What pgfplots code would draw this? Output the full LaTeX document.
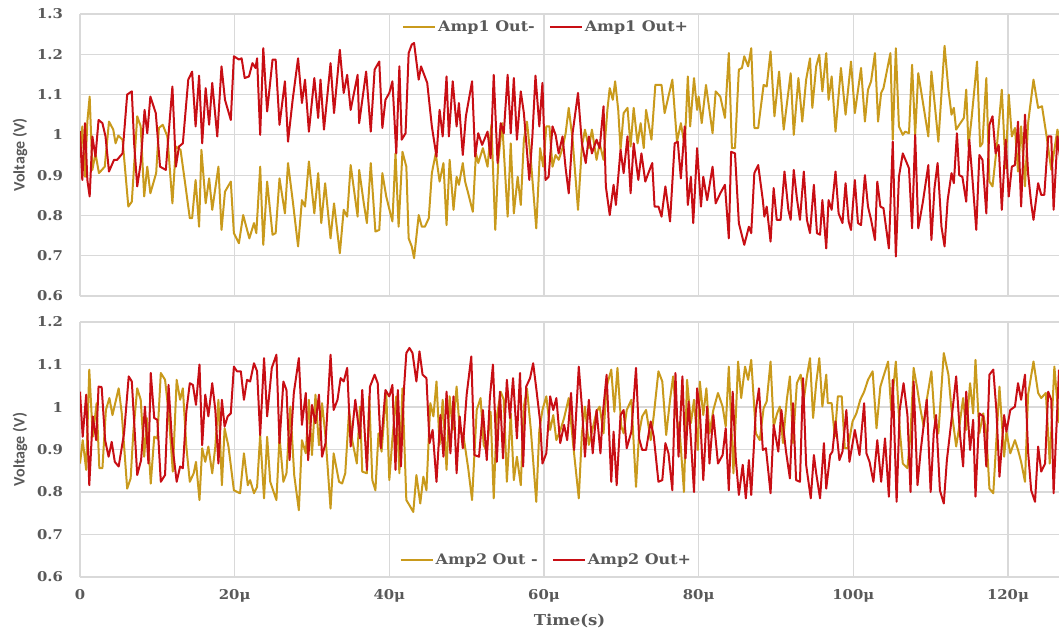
\documentclass[border=0pt]{standalone}
\usepackage{pgfplots}
\pgfplotsset{compat=1.18}
\usepackage{fontspec}
\setmainfont{DejaVu Serif}[FakeStretch=1.1]
\newfontfamily\labelsans{Carlito}
\definecolor{goldc}{RGB}{201,154,28}
\definecolor{redc}{RGB}{200,14,20}
\definecolor{gridc}{RGB}{217,217,217}
\definecolor{txt}{RGB}{89,89,89}

\pgfplotsset{
  panel/.style={
    scale only axis, width=979pt, xmin=0, xmax=126.6,
    axis line style={draw=none},
    grid=major, grid style={gridc, line width=1.2pt},
    major tick length=0pt,
    xtick={0,20,40,60,80,100,120},
    /pgf/number format/assume math mode=true,
    yticklabel style={font=\bfseries\fontsize{13.5}{14}\selectfont, text=txt,
      /pgf/number format/fixed, /pgf/number format/precision=1, xshift=-13.5pt},
    xticklabel style={font=\bfseries\fontsize{13.5}{14}\selectfont, text=txt, yshift=-9pt},
    ylabel={Voltage (V)},
    ylabel style={font=\labelsans\bfseries\fontsize{16}{18}\selectfont, text=txt,
      at={(axis description cs:-0.0613,0.5)}, anchor=center},
    legend style={draw=none, fill=none, font=\bfseries\fontsize{14.5}{16}\selectfont, text=txt,
      legend columns=2},
    legend image code/.code={\path (-12pt,0pt); \draw[##1, line width=2pt] (0pt,0pt) -- (32pt,0pt);},
    every axis plot/.append style={line width=2pt, line join=round},
  }
}

\begin{document}
\begin{tikzpicture}
\path[use as bounding box] (0,0) rectangle (1059pt,632pt);

% ---------------- top panel ----------------
\begin{axis}[panel, at={(80pt,336pt)}, anchor=south west, height=282pt,
  ymin=0.6, ymax=1.3, ytick={0.6,0.7,0.8,0.9,1,1.1,1.2,1.3},
  xticklabels={},
  legend style={at={(axis description cs:0.3136,0.954)}, anchor=west}]
\addplot[goldc] coordinates {
(0,0.946)(0.3,1.021)(0.65,0.896)(0.95,1.033)(1.25,1.095)(1.6,0.913)(2.0,0.954)(2.45,0.905)(3.2,0.921)(3.75,1.033)(4.3,1.013)(4.6,0.979)(4.95,0.998)(5.5,0.988)(6.25,0.822)(6.7,0.834)(7.4,1.046)(7.85,1.021)(8.3,0.847)(8.7,0.921)(9.1,0.855)(9.85,0.905)(10.2,1.017)(10.7,1.025)(11.3,0.996)(11.95,0.83)(12.4,0.971)(13.0,0.963)(13.65,0.872)(14.2,0.793)(14.5,0.793)(14.95,0.888)(15.4,0.772)(15.7,0.963)(16.25,0.83)(16.7,0.892)(17.1,0.814)(17.9,0.921)(18.3,0.764)(18.75,0.859)(19.5,0.884)(19.9,0.756)(20.55,0.731)(21.1,0.801)(21.9,0.743)(22.5,0.781)(22.8,0.756)(23.3,0.921)(23.7,0.727)(24.2,0.884)(24.9,0.752)(25.3,0.756)(25.8,0.892)(26.5,0.805)(26.9,0.93)(27.5,0.838)(28.2,0.723)(28.7,0.838)(29.1,0.822)(29.6,0.934)(30.3,0.805)(30.8,0.905)(31.2,0.781)(31.7,0.88)(32.4,0.743)(32.85,0.83)(33.6,0.706)(34.1,0.814)(34.55,0.797)(35.0,0.925)(35.9,0.797)
(36.1,0.913)(36.7,0.83)(37.1,0.781)(37.6,0.93)(38.2,0.76)(38.7,0.764)(39.1,0.905)(39.6,0.847)(40.4,0.785)(40.8,0.954)(41.2,0.772)(41.7,0.958)(42.2,0.921)(42.5,0.743)(42.9,0.723)(43.2,0.694)(43.8,0.801)(44.2,0.772)(44.6,0.772)(45.1,0.793)(45.5,0.905)(46.0,0.954)(46.5,0.884)(47.0,0.93)(47.4,0.776)(47.8,0.938)(48.3,0.814)(48.7,0.896)(49.0,0.876)(49.5,0.93)(49.8,0.884)(50.2,0.855)(50.8,0.809)(51.2,0.954)(51.5,0.93)(52.1,0.967)(52.7,0.921)(53.2,1.025)(53.7,0.764)(54.1,0.938)(54.6,1.029)(55.3,0.797)(55.7,0.979)(56.1,0.805)(56.6,0.896)(57.0,0.826)(57.4,0.988)(57.8,1.033)(58.3,0.938)(59.0,0.768)(59.5,0.967)(59.9,0.921)(60.3,1.021)(60.7,1.021)(61.1,0.921)(61.5,0.95)(61.9,0.938)(62.4,0.967)(62.8,1.004)(63.2,1.067)(63.7,0.988)(64.4,0.814)(64.9,0.971)(65.3,1.013)(65.8,0.967)(66.2,1.013)(66.8,0.938)(67.2,0.979)(67.7,0.938)(68.2,1.062)(68.5,1.116)(68.9,1.087)(69.2,1.133)(69.6,1.062)(69.9,0.963)(70.3,1.054)(70.8,1.067)(71.2,0.971)(71.6,1.067)(72.1,0.979)(72.5,1.029)(72.9,0.967)(73.2,1.062)(73.9,0.988)(74.4,1.124)(75.2,1.124)(75.6,1.054)(76.6,1.137)(77.2,0.983)(77.7,1.029)(78.2,0.971)(78.6,1.145)(78.9,1.021)(79.4,1.141)(79.8,1.062)
(80.0,1.095)(80.4,1.029)(80.95,1.124)(81.8,1.004)(82.2,1.108)(82.8,1.095)(83.4,1.042)(83.9,1.203)(84.3,0.967)(84.7,0.967)(85.2,1.162)(85.6,1.166)(85.9,1.195)(86.4,1.17)(86.8,1.215)(87.2,1.017)(87.7,1.017)(88.4,1.124)(88.8,1.12)(89.3,1.207)(89.8,1.046)(90.4,1.157)(91.0,1.013)(91.9,1.153)(92.3,1.0)(92.9,1.141)(93.4,1.033)(93.9,1.137)(94.4,1.19)(94.7,1.067)(95.2,1.17)(95.6,1.199)(96.0,1.108)(96.5,1.203)(96.8,1.087)(97.2,1.145)(97.7,1.008)(98.4,1.166)(99.0,1.05)(99.7,1.182)(100.2,1.054)(101.0,1.166)(101.5,1.033)(101.9,1.112)(102.3,1.133)(102.8,1.203)(103.2,1.033)(103.6,1.104)(103.9,1.116)(104.8,1.203)(105.1,0.988)(105.5,1.215)(105.9,1.021)(106.4,1.0)(106.7,1.008)(107.2,1.004)(107.6,1.174)(108.0,1.0)(108.4,1.153)(109.7,0.996)(110.1,1.157)(110.6,1.062)(111.0,0.983)(111.8,1.221)(112.3,1.112)(112.7,1.05)(113.0,1.067)(113.3,1.013)(113.7,1.025)(114.3,1.042)(114.6,1.112)(114.9,0.971)(115.3,1.042)(116.0,1.182)(116.4,0.971)(116.7,0.979)(117.2,1.141)(117.6,0.884)(118.0,0.872)(118.6,0.979)(119.2,1.112)(119.7,0.917)(120.1,1.1)(120.5,0.996)(120.9,1.017)(121.3,0.909)(121.7,1.021)(122.2,0.872)(122.6,1.029)(123.3,1.137)(123.9,1.067)(124.4,1.071)(125.0,0.996)(125.6,0.913)(126.4,1.013)(127,0.95)
};
\addlegendentry{Amp1 Out-}
\addplot[redc] coordinates {
(0,1.009)(0.3,0.888)(0.65,1.029)(0.95,0.888)(1.25,0.847)(1.6,0.996)(2.0,0.946)(2.4,1.037)(2.9,1.029)(3.3,0.996)(3.75,0.909)(4.4,0.938)(4.8,0.938)(5.5,0.954)(6.1,1.1)(6.7,1.108)(7.0,0.979)(7.4,0.872)(7.85,0.93)(8.35,1.062)(8.7,1.004)(9.1,1.095)(9.8,1.054)(10.35,0.921)(11.1,0.913)(11.4,0.988)(11.95,1.12)(12.4,0.921)(12.8,0.971)(13.3,0.979)(14.0,1.137)(14.5,1.157)(14.95,1.021)(15.4,1.147)(15.8,0.979)(16.25,1.116)(16.7,1.025)(17.1,1.129)(17.75,0.996)(18.3,1.17)(18.75,1.087)(19.5,1.037)(19.9,1.195)(20.55,1.187)(20.9,1.19)(21.3,1.141)(21.85,1.145)(22.3,1.178)(22.7,1.166)(22.9,1.19)(23.3,1.0)(23.7,1.215)(24.2,1.058)(24.9,1.187)(25.3,1.187)(25.8,1.025)(26.5,1.133)(26.9,0.983)(27.5,1.087)(28.2,1.19)(28.7,1.079)(29.1,1.137)(29.6,1.008)(30.3,1.141)(30.8,1.042)(31.1,1.137)(31.55,1.013)(32.4,1.178)(32.85,1.054)(33.6,1.211)(34.1,1.104)(34.55,1.149)(35.0,1.062)(35.9,1.149)
(36.1,1.029)(37.0,1.157)(37.6,1.008)(38.1,1.162)(38.7,1.182)(39.1,1.017)(39.5,1.087)(40.0,1.104)(40.4,1.133)(40.9,0.954)(41.3,1.17)(41.6,0.988)(42.1,1.004)(42.5,1.203)(42.9,1.224)(43.2,1.228)(43.8,1.137)(44.1,1.17)(44.9,1.129)(45.5,1.021)(46.1,0.946)(46.5,1.062)(46.9,0.996)(47.4,1.145)(47.7,0.996)(48.2,1.133)(48.7,1.021)(49.0,1.079)(49.5,0.95)(49.9,1.046)(50.7,1.133)(51.1,0.946)(51.5,1.004)(52.0,0.975)(52.7,1.008)(53.1,0.942)(53.5,1.149)(54.0,0.93)(54.4,1.029)(54.8,1.004)(55.3,1.149)(55.7,1.004)(56.1,1.141)(56.5,0.988)(57.0,1.108)(57.4,1.054)(58.1,0.888)(58.5,0.996)(58.9,1.147)(59.4,1.021)(59.8,1.129)(60.2,0.888)(60.6,0.896)(61.1,1.021)(61.5,1.0)(61.9,0.954)(62.4,0.996)(62.8,0.917)(63.2,0.855)(63.7,1.004)(64.4,1.104)(64.9,0.979)(65.4,0.93)(65.8,0.996)(66.2,0.954)(66.8,0.988)(67.2,0.967)(67.7,1.071)(68.0,0.872)(68.5,0.801)(69.0,0.876)(69.3,0.826)(69.9,0.963)(70.3,0.905)(70.8,0.996)(71.2,0.855)(71.6,0.979)(72.2,0.888)(72.6,0.954)(73.1,0.884)(73.5,0.905)(74.0,0.93)(74.3,0.822)(74.8,0.822)(75.2,0.797)(75.7,0.872)(76.3,0.785)(76.9,0.979)(77.3,0.983)(77.7,0.892)(78.2,1.021)(78.6,0.826)(79.0,0.896)(79.3,0.781)(79.8,0.967)
(80.3,0.822)(80.6,0.896)(81.1,0.838)(81.8,0.921)(82.2,0.83)(82.8,0.855)(83.4,0.876)(83.9,0.743)(84.2,0.958)(84.7,0.954)(85.2,0.781)(85.9,0.727)(86.5,0.772)(86.8,0.756)(87.2,0.905)(87.7,0.925)(88.3,0.838)(88.5,0.797)(88.8,0.822)(89.3,0.735)(89.7,0.868)(90.1,0.789)(90.6,0.789)(91.1,0.909)(91.6,0.814)(91.9,0.789)(92.3,0.913)(92.7,0.843)(93.1,0.789)(93.6,0.909)(94.0,0.789)(94.4,0.756)(94.9,0.876)(95.3,0.756)(95.7,0.752)(96.0,0.838)(96.5,0.718)(96.8,0.838)(97.2,0.814)(97.7,0.909)(98.1,0.805)(98.6,0.781)(99.0,0.88)(99.4,0.785)(99.7,0.764)(100.2,0.888)(100.6,0.781)(101.0,0.776)(101.5,0.9)(101.9,0.822)(102.3,0.789)(102.8,0.739)(103.1,0.884)(103.5,0.822)(103.9,0.818)(104.6,0.718)(105.1,0.983)(105.5,0.698)(105.9,0.896)(106.4,0.954)(107.2,0.917)(107.6,0.768)(108.0,1.0)(108.4,0.768)(109.0,0.834)(109.7,0.925)(110.1,0.739)(110.5,0.868)(110.9,0.93)(111.4,0.772)(111.8,0.723)(112.2,0.838)(112.7,0.905)(113.0,0.88)(113.4,1.004)(113.7,0.9)(114.1,0.896)(114.6,0.834)(115.0,0.988)(115.4,0.892)(115.9,0.764)(116.3,0.95)(116.7,0.938)(117.2,0.805)(117.6,1.025)(118.0,1.046)(118.4,0.954)(118.8,0.975)(119.2,0.814)(119.7,0.988)(120.1,0.847)(120.5,0.921)(120.9,0.925)(121.3,1.033)(121.7,0.822)(122.2,1.05)(122.6,0.905)(123.0,0.83)(123.3,0.789)(123.9,0.88)(124.3,0.851)(124.7,0.851)(125.2,0.996)(125.6,0.996)(125.9,0.814)(126.4,0.996)(127,0.9)
};
\addlegendentry{Amp1 Out+}
\end{axis}

% ---------------- bottom panel ----------------
\begin{axis}[panel, at={(80pt,55pt)}, anchor=south west, height=255pt,
  ymin=0.6, ymax=1.2, ytick={0.6,0.7,0.8,0.9,1,1.1,1.2},
  xticklabels={0,20μ,40μ,60μ,80μ,100μ,120μ},
  xlabel={Time(s)},
  xlabel style={font=\bfseries\fontsize{15}{16}\selectfont, text=txt,
    at={(axis description cs:0.5,-0.1725)}, anchor=center},
  legend style={at={(axis description cs:0.3110,0.0667)}, anchor=west}]
\addplot[goldc] coordinates {
(0,0.867)(0.35,0.922)(0.8,0.852)(1.2,1.088)(1.65,0.93)(2.15,1.009)(2.5,0.856)(2.9,0.856)(3.35,0.993)(3.8,1.021)(4.2,0.981)(5.0,1.044)(5.4,0.985)(6.1,0.808)(6.55,0.832)(6.9,0.942)(7.4,1.044)(7.85,1.017)(8.3,0.883)(8.65,0.974)(9.15,0.82)(9.6,0.93)(10.0,0.926)(10.45,1.08)(11.0,1.064)(11.45,0.989)(12.0,0.848)(12.5,1.064)(12.95,1.017)(13.3,1.044)(13.75,0.907)(14.2,0.824)(14.7,0.844)(15.0,0.871)(15.45,0.781)(15.8,0.903)(16.2,0.871)(16.6,0.907)(17.1,0.844)(17.5,0.907)(17.9,1.017)(18.35,0.816)(18.7,0.95)(19.2,0.907)(19.9,0.804)(20.7,0.797)(21.2,0.891)(21.7,0.816)(22.0,0.828)(22.5,0.797)(22.9,0.812)(23.3,0.934)(23.8,0.785)(24.2,0.93)(24.6,0.824)(25.4,0.781)(25.8,0.93)(26.3,0.824)(26.7,0.844)(27.2,1.001)(27.7,0.84)(28.3,0.757)(28.7,0.922)(29.2,0.891)(29.6,1.017)(30.0,0.887)(30.45,1.029)(30.9,0.91)(31.3,1.009)(31.75,0.93)(32.4,0.761)(32.8,0.891)(33.5,0.824)(33.9,0.82)(34.3,0.844)(34.8,0.993)(35.2,0.922)(35.8,0.867)(36.2,1.001)
(36.5,0.848)(37.1,0.844)(37.4,1.025)(37.8,0.828)(38.2,0.804)(38.6,0.938)(39.0,0.895)(39.6,1.036)(40.0,0.828)(40.4,0.926)(40.9,1.025)(41.3,0.844)(41.7,1.044)(42.2,0.781)(42.6,0.769)(43.1,0.753)(43.5,0.84)(44.0,0.773)(44.4,0.836)(44.8,0.804)(45.3,1.009)(45.7,0.978)(46.1,1.06)(46.5,0.911)(46.9,1.017)(47.4,0.852)(47.8,1.025)(48.2,0.946)(48.7,1.048)(49.1,0.946)(49.6,0.93)(50.2,0.856)(50.7,0.781)(51.3,0.993)(51.8,1.021)(52.2,0.911)(52.6,0.895)(53.1,0.989)(53.5,0.785)(53.9,0.978)(54.4,1.036)(54.8,1.017)(55.2,0.824)(55.7,0.985)(56.1,0.828)(56.5,0.883)(57.0,0.816)(57.4,1.001)(57.8,1.044)(58.3,0.946)(59.0,0.777)(59.4,0.946)(59.8,0.993)(60.3,1.025)(60.8,0.946)(61.2,0.981)(61.6,0.922)(62.2,0.95)(62.6,0.974)(63.2,1.021)(63.8,0.907)(64.5,0.785)(64.9,0.938)(65.3,1.001)(65.8,0.911)(66.2,0.942)(66.8,0.989)(67.2,1.001)(67.7,0.938)(68.1,1.048)(68.7,1.088)(69.1,0.989)(69.5,1.092)(70.0,0.954)(70.3,0.938)(70.7,0.993)(71.3,1.017)(71.9,0.812)(72.3,0.938)(72.7,0.978)(73.2,0.993)(73.8,0.922)(74.2,0.981)(74.8,1.084)(75.3,1.06)(75.8,0.934)(76.3,1.017)(76.7,1.072)(77.1,0.981)(77.6,0.93)(78.1,0.8)(78.5,1.064)(79.0,0.962)(79.4,1.017)(79.9,0.899)
(80.15,1.06)(80.6,0.981)(81.0,1.044)(81.4,0.938)(81.9,0.993)(82.5,1.033)(83.1,1.001)(83.5,0.954)(83.9,1.095)(84.5,0.844)(85.1,1.107)(85.5,1.021)(86.0,1.095)(86.4,1.064)(86.8,1.111)(87.4,0.938)(87.9,0.922)(88.4,0.997)(88.8,1.013)(89.3,1.107)(89.7,0.954)(90.15,0.985)(90.5,1.001)(90.9,0.915)(91.4,1.017)(91.8,1.072)(92.2,0.915)(92.7,1.056)(93.2,1.076)(93.6,1.017)(94.0,1.072)(94.4,1.115)(94.8,0.974)(95.2,1.056)(95.6,1.115)(96.0,1.001)(96.5,1.076)(96.7,1.009)(97.2,1.009)(97.6,0.93)(98.0,1.025)(98.5,1.025)(98.9,0.903)(99.3,0.903)(99.9,0.966)(100.4,0.985)(100.9,1.017)(101.4,1.036)(101.9,1.064)(102.5,1.084)(103.0,0.95)(103.5,1.048)(103.9,1.072)(104.5,1.107)(104.9,0.993)(105.5,1.107)(106.0,0.946)(106.4,0.867)(107.0,0.856)(107.4,0.938)(107.8,1.092)(108.3,1.04)(108.7,0.993)(109.1,0.954)(109.5,1.017)(110.1,1.084)(110.5,0.974)(111.0,0.938)(111.7,1.127)(112.3,1.076)(112.7,0.993)(113.3,0.907)(113.8,0.966)(114.2,1.021)(114.6,0.946)(115.1,1.056)(115.5,0.985)(115.8,1.111)(116.3,0.938)(116.8,0.985)(117.2,0.938)(117.6,0.808)(118.1,0.797)(118.5,0.922)(118.9,1.048)(119.5,0.883)(119.8,0.942)(120.3,0.891)(120.9,0.922)(121.3,0.899)(121.7,0.871)(122.2,0.824)(122.6,1.029)(123.3,1.107)(123.9,1.033)(124.3,1.021)(124.9,1.033)(125.4,0.867)(126.0,1.095)(126.6,0.962)
};
\addlegendentry{Amp2 Out -}
\addplot[redc] coordinates {
(0,1.036)(0.35,0.93)(0.8,1.029)(1.2,0.816)(1.65,0.978)(2.1,0.922)(2.4,1.048)(2.8,1.047)(3.25,0.922)(3.7,0.883)(4.1,0.918)(4.5,0.871)(5.0,0.86)(5.7,0.938)(6.3,1.072)(6.7,1.06)(7.4,0.84)(7.9,0.875)(8.4,1.001)(8.85,0.867)(9.15,1.08)(9.6,0.974)(10.0,0.97)(10.45,0.824)(11.0,0.84)(11.45,1.052)(11.9,0.918)(12.5,0.824)(12.95,0.86)(13.3,0.856)(13.75,0.989)(14.2,1.056)(14.6,1.052)(15.0,1.005)(15.45,1.1)(15.8,0.91)(16.2,1.029)(16.6,0.978)(17.1,1.056)(17.5,0.993)(17.9,0.867)(18.35,1.017)(18.7,0.954)(19.1,0.978)(19.5,0.985)(19.9,1.095)(20.3,1.084)(20.8,1.084)(21.2,1.017)(21.6,1.064)(22.0,1.06)(22.5,1.103)(22.9,1.084)(23.3,0.934)(23.8,1.115)(24.2,0.978)(24.8,1.092)(25.4,1.123)(25.8,0.915)(26.3,1.06)(26.7,1.04)(27.1,0.875)(27.65,1.033)(28.3,1.115)(28.7,0.958)(29.2,1.033)(29.5,0.875)(30.0,1.005)(30.45,0.962)(30.9,1.029)(31.3,0.883)(31.75,0.915)(32.4,1.123)(32.8,0.993)(33.3,1.017)(33.7,1.068)(34.1,1.06)(34.55,1.092)(35.0,0.907)(35.6,1.017)(36.2,0.926)
(36.5,1.04)(37.1,0.852)(37.5,1.048)(38.1,1.076)(38.5,1.056)(38.9,0.903)(39.5,1.04)(40.0,1.025)(40.4,1.052)(40.8,0.852)(41.1,1.04)(41.5,0.86)(41.9,1.044)(42.2,1.127)(42.6,1.139)(43.0,1.127)(43.5,1.06)(43.9,1.131)(44.3,1.076)(44.8,1.068)(45.2,0.915)(45.6,0.946)(46.1,0.824)(46.6,0.981)(47.0,0.883)(47.4,1.036)(47.9,0.891)(48.3,1.025)(48.7,0.844)(49.1,0.978)(49.5,0.903)(50.0,1.029)(50.6,1.119)(51.0,0.887)(51.6,0.883)(52.1,0.993)(52.6,0.875)(53.0,1.021)(53.4,1.1)(53.9,0.871)(54.3,1.036)(54.7,0.879)(55.2,1.064)(55.6,0.974)(56.0,1.068)(56.5,0.926)(56.9,1.08)(57.3,0.86)(57.7,1.048)(58.2,1.068)(58.6,1.103)(59.0,1.044)(59.5,0.966)(59.8,0.867)(60.3,0.891)(60.8,1.025)(61.2,0.993)(61.6,1.021)(62.1,0.915)(62.6,0.958)(63.0,0.922)(63.5,1.033)(63.9,0.899)(64.5,1.095)(64.9,1.001)(65.3,0.883)(65.8,1.017)(66.3,0.891)(66.8,0.993)(67.3,0.891)(67.6,0.981)(68.1,1.076)(68.7,0.824)(69.0,0.942)(69.4,0.816)(69.9,0.981)(70.3,0.993)(70.7,0.903)(71.3,0.942)(71.9,1.092)(72.3,0.926)(72.7,0.899)(73.2,0.899)(73.8,0.966)(74.2,0.93)(74.8,0.824)(75.3,0.828)(75.7,0.915)(76.1,0.891)(76.6,0.804)(77.0,1.08)(77.4,0.883)(77.9,1.072)(78.3,0.879)(78.7,1.013)(79.4,0.8)(79.8,1.044)
(80.15,0.993)(80.6,0.828)(81.1,1.001)(81.4,0.867)(81.9,0.981)(82.5,0.867)(83.1,0.887)(83.5,0.95)(83.9,0.804)(84.4,1.036)(84.8,0.879)(85.2,0.793)(85.7,0.864)(86.1,0.785)(86.5,0.875)(86.8,0.793)(87.4,0.993)(87.8,1.044)(88.3,0.899)(88.7,0.903)(89.3,0.797)(89.7,0.958)(90.3,0.895)(90.7,0.993)(91.3,0.895)(91.8,0.832)(92.2,1.009)(92.6,0.828)(93.1,0.824)(93.5,1.068)(93.9,0.864)(94.5,0.785)(94.9,0.887)(95.2,0.844)(95.7,0.785)(96.2,0.915)(96.5,0.808)(97.0,0.887)(97.3,0.895)(97.7,0.966)(98.2,0.875)(98.6,0.895)(99.1,0.993)(99.5,0.871)(100.2,0.946)(100.8,0.887)(101.4,1.009)(101.7,0.891)(102.1,0.871)(102.6,0.824)(103.1,0.922)(103.6,0.824)(104.1,0.926)(104.6,0.789)(105.1,1.064)(105.6,0.777)(106.0,0.993)(106.5,1.056)(107.0,0.981)(107.4,0.8)(107.8,1.06)(108.3,0.816)(108.7,0.895)(109.1,0.958)(109.5,1.017)(110.0,0.8)(110.4,0.938)(110.7,0.981)(111.2,0.804)(111.7,0.773)(112.1,0.875)(112.6,0.954)(113.3,1.072)(113.8,0.934)(114.2,0.86)(114.6,1.036)(115.1,0.899)(115.5,0.97)(115.8,0.789)(116.3,0.985)(116.8,0.978)(117.2,0.86)(117.6,1.076)(118.1,1.088)(118.5,0.993)(118.9,0.836)(119.5,0.981)(119.8,0.942)(120.3,0.993)(120.9,1.001)(121.3,1.056)(121.7,1.017)(122.2,1.076)(122.6,0.895)(123.0,0.804)(123.5,0.777)(123.9,0.907)(124.3,0.848)(124.8,0.867)(125.2,1.036)(125.6,1.017)(125.9,0.797)(126.6,1.088)
};
\addlegendentry{Amp2 Out+}
\end{axis}
\end{tikzpicture}
\end{document}
